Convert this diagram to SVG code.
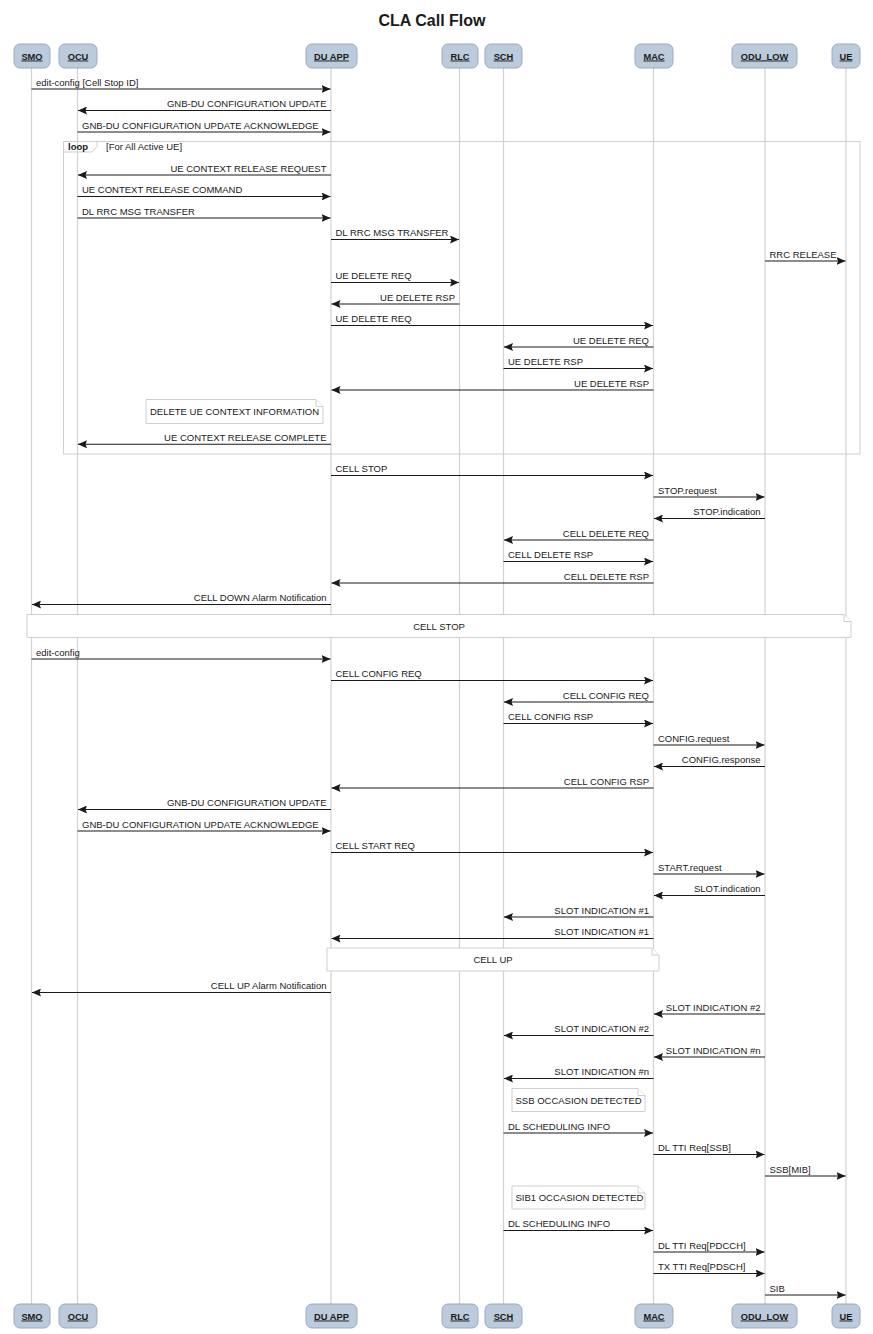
<svg xmlns="http://www.w3.org/2000/svg" width="873" height="1334" viewBox="0 0 873 1334">
<style>
text{font-family:"Liberation Sans",Arial,sans-serif;fill:#1a1a1a}
.title{font-size:16px;font-weight:bold}
.head rect{fill:#bccbdb;stroke:#97abc4;stroke-width:1}
.head text{font-size:9.3px;font-weight:bold;text-decoration:underline;text-anchor:middle}
.life{stroke:#d2d2d2;stroke-width:1.2}
.msg line{stroke:#1a1a1a;stroke-width:1.1;marker-end:url(#ah)}
.msg text{font-size:9.5px}
.r{text-anchor:end}
.frame{fill:none;stroke:#cfcfcf;stroke-width:1}
.note path{fill:#ffffff;stroke:#cfcfcf;stroke-width:1}
.note text{font-size:9.5px}
.lbl{font-size:9.5px}
.lblb{font-size:9.5px;font-weight:bold}
</style>
<defs>
<marker id="ah" viewBox="0 0 9 8" markerWidth="9" markerHeight="8" refX="9" refY="4" orient="auto" markerUnits="userSpaceOnUse">
<path d="M0,0 L9,4 L0,8 L1.5,4 z" fill="#1a1a1a"/>
</marker>
</defs>
<rect width="873" height="1334" fill="#ffffff"/>
<text class="title" x="432" y="26" text-anchor="middle">CLA Call Flow</text>

<g id="lifelines">
<line class="life" x1="31.5" y1="68" x2="31.5" y2="1304"/>
<line class="life" x1="77.5" y1="68" x2="77.5" y2="1304"/>
<line class="life" x1="331" y1="68" x2="331" y2="1304"/>
<line class="life" x1="459.5" y1="68" x2="459.5" y2="1304"/>
<line class="life" x1="503.5" y1="68" x2="503.5" y2="1304"/>
<line class="life" x1="653.5" y1="68" x2="653.5" y2="1304"/>
<line class="life" x1="765" y1="68" x2="765" y2="1304"/>
<line class="life" x1="846" y1="68" x2="846" y2="1304"/>
</g>

<g id="SMO" class="head">
<rect x="14" y="44" width="36" height="24" rx="6"/><text x="32" y="59.5">SMO</text>
<rect x="14" y="1304" width="36" height="24" rx="6"/><text x="32" y="1319.5">SMO</text>
</g>
<g id="OCU" class="head">
<rect x="59" y="44" width="38" height="24" rx="6"/><text x="78" y="59.5">OCU</text>
<rect x="59" y="1304" width="38" height="24" rx="6"/><text x="78" y="1319.5">OCU</text>
</g>
<g id="DU_APP" class="head">
<rect x="306" y="44" width="51" height="24" rx="6"/><text x="331.5" y="59.5">DU APP</text>
<rect x="306" y="1304" width="51" height="24" rx="6"/><text x="331.5" y="1319.5">DU APP</text>
</g>
<g id="RLC" class="head">
<rect x="442" y="44" width="36" height="24" rx="6"/><text x="460" y="59.5">RLC</text>
<rect x="442" y="1304" width="36" height="24" rx="6"/><text x="460" y="1319.5">RLC</text>
</g>
<g id="SCH" class="head">
<rect x="485" y="44" width="37" height="24" rx="6"/><text x="503.5" y="59.5">SCH</text>
<rect x="485" y="1304" width="37" height="24" rx="6"/><text x="503.5" y="1319.5">SCH</text>
</g>
<g id="MAC" class="head">
<rect x="635" y="44" width="38" height="24" rx="6"/><text x="654" y="59.5">MAC</text>
<rect x="635" y="1304" width="38" height="24" rx="6"/><text x="654" y="1319.5">MAC</text>
</g>
<g id="ODU_LOW" class="head">
<rect x="732" y="44" width="65" height="24" rx="6"/><text x="764.5" y="59.5">ODU_LOW</text>
<rect x="732" y="1304" width="65" height="24" rx="6"/><text x="764.5" y="1319.5">ODU_LOW</text>
</g>
<g id="UE" class="head">
<rect x="832" y="44" width="28" height="24" rx="6"/><text x="846" y="59.5">UE</text>
<rect x="832" y="1304" width="28" height="24" rx="6"/><text x="846" y="1319.5">UE</text>
</g>

<g id="loop">
<rect class="frame" x="63.5" y="141.5" width="796.5" height="312.5"/>
<path class="frame" d="M63.5,141.5 H97 V146.5 L92,152 H63.5"/>
<text class="lblb" x="68" y="150">loop</text>
<text class="lbl" x="106" y="150">[For All Active UE]</text>
</g>

<g id="note_delete_ue" class="note">
<path d="M146,399.5 H316 L323,406.5 V423.5 H146 Z"/><path d="M316,399.5 V406.5 H323"/>
<text x="150" y="414.5">DELETE UE CONTEXT INFORMATION</text>
</g>
<g id="note_cell_stop" class="note">
<path d="M27,614.5 H844 L851,621.5 V637.5 H27 Z"/><path d="M844,614.5 V621.5 H851"/>
<text x="439" y="629.5" text-anchor="middle">CELL STOP</text>
</g>
<g id="note_cell_up" class="note">
<path d="M327,948 H652 L659,955 V971 H327 Z"/><path d="M652,948 V955 H659"/>
<text x="493" y="963" text-anchor="middle">CELL UP</text>
</g>
<g id="note_ssb" class="note">
<path d="M512,1088.5 H638 L645,1095.5 V1111.5 H512 Z"/><path d="M638,1088.5 V1095.5 H645"/>
<text x="515.5" y="1103.5">SSB OCCASION DETECTED</text>
</g>
<g id="note_sib1" class="note">
<path d="M512,1186 H638 L645,1193 V1209 H512 Z"/><path d="M638,1186 V1193 H645"/>
<text x="515.5" y="1201">SIB1 OCCASION DETECTED</text>
</g>

<g id="connectors" class="msg">
<line x1="31.5" y1="89" x2="330.5" y2="89"/><text x="36" y="85.5">edit-config [Cell Stop ID]</text>
<line x1="331" y1="110.5" x2="78" y2="110.5"/><text class="r" x="326.5" y="107">GNB-DU CONFIGURATION UPDATE</text>
<line x1="77.5" y1="132" x2="330.5" y2="132"/><text x="82" y="128.5">GNB-DU CONFIGURATION UPDATE ACKNOWLEDGE</text>
<line x1="331" y1="175" x2="78" y2="175"/><text class="r" x="326.5" y="171.5">UE CONTEXT RELEASE REQUEST</text>
<line x1="77.5" y1="196.5" x2="330.5" y2="196.5"/><text x="82" y="193">UE CONTEXT RELEASE COMMAND</text>
<line x1="77.5" y1="218" x2="330.5" y2="218"/><text x="82" y="214.5">DL RRC MSG TRANSFER</text>
<line x1="331" y1="239.5" x2="459" y2="239.5"/><text x="335.5" y="236">DL RRC MSG TRANSFER</text>
<line x1="765" y1="261" x2="845.5" y2="261"/><text x="769.5" y="257.5">RRC RELEASE</text>
<line x1="331" y1="282.5" x2="459" y2="282.5"/><text x="335.5" y="279">UE DELETE REQ</text>
<line x1="459.5" y1="304" x2="331.5" y2="304"/><text class="r" x="455" y="300.5">UE DELETE RSP</text>
<line x1="331" y1="325.5" x2="653" y2="325.5"/><text x="335.5" y="322">UE DELETE REQ</text>
<line x1="653.5" y1="347" x2="504" y2="347"/><text class="r" x="649" y="343.5">UE DELETE REQ</text>
<line x1="503.5" y1="368.5" x2="653" y2="368.5"/><text x="508" y="365">UE DELETE RSP</text>
<line x1="653.5" y1="390" x2="331.5" y2="390"/><text class="r" x="649" y="386.5">UE DELETE RSP</text>
<line x1="331" y1="444.3" x2="78" y2="444.3"/><text class="r" x="326.5" y="440.8">UE CONTEXT RELEASE COMPLETE</text>
<line x1="331" y1="475.5" x2="653" y2="475.5"/><text x="335.5" y="472">CELL STOP</text>
<line x1="653.5" y1="497" x2="764.5" y2="497"/><text x="658" y="493.5">STOP.request</text>
<line x1="765" y1="518.5" x2="654" y2="518.5"/><text class="r" x="760.5" y="515">STOP.indication</text>
<line x1="653.5" y1="540" x2="504" y2="540"/><text class="r" x="649" y="536.5">CELL DELETE REQ</text>
<line x1="503.5" y1="561.5" x2="653" y2="561.5"/><text x="508" y="558">CELL DELETE RSP</text>
<line x1="653.5" y1="583" x2="331.5" y2="583"/><text class="r" x="649" y="579.5">CELL DELETE RSP</text>
<line x1="331" y1="604.5" x2="32" y2="604.5"/><text class="r" x="326.5" y="601">CELL DOWN Alarm Notification</text>
<line x1="31.5" y1="659" x2="330.5" y2="659"/><text x="36" y="655.5">edit-config</text>
<line x1="331" y1="680.5" x2="653" y2="680.5"/><text x="335.5" y="677">CELL CONFIG REQ</text>
<line x1="653.5" y1="702" x2="504" y2="702"/><text class="r" x="649" y="698.5">CELL CONFIG REQ</text>
<line x1="503.5" y1="723.5" x2="653" y2="723.5"/><text x="508" y="720">CELL CONFIG RSP</text>
<line x1="653.5" y1="745" x2="764.5" y2="745"/><text x="658" y="741.5">CONFIG.request</text>
<line x1="765" y1="766.5" x2="654" y2="766.5"/><text class="r" x="760.5" y="763">CONFIG.response</text>
<line x1="653.5" y1="788" x2="331.5" y2="788"/><text class="r" x="649" y="784.5">CELL CONFIG RSP</text>
<line x1="331" y1="809.5" x2="78" y2="809.5"/><text class="r" x="326.5" y="806">GNB-DU CONFIGURATION UPDATE</text>
<line x1="77.5" y1="831" x2="330.5" y2="831"/><text x="82" y="827.5">GNB-DU CONFIGURATION UPDATE ACKNOWLEDGE</text>
<line x1="331" y1="852.5" x2="653" y2="852.5"/><text x="335.5" y="849">CELL START REQ</text>
<line x1="653.5" y1="874" x2="764.5" y2="874"/><text x="658" y="870.5">START.request</text>
<line x1="765" y1="895.5" x2="654" y2="895.5"/><text class="r" x="760.5" y="892">SLOT.indication</text>
<line x1="653.5" y1="917" x2="504" y2="917"/><text class="r" x="649" y="913.5">SLOT INDICATION #1</text>
<line x1="653.5" y1="938.5" x2="331.5" y2="938.5"/><text class="r" x="649" y="935">SLOT INDICATION #1</text>
<line x1="331" y1="992.5" x2="32" y2="992.5"/><text class="r" x="326.5" y="989">CELL UP Alarm Notification</text>
<line x1="765" y1="1014" x2="654" y2="1014"/><text class="r" x="760.5" y="1010.5">SLOT INDICATION #2</text>
<line x1="653.5" y1="1035.5" x2="504" y2="1035.5"/><text class="r" x="649" y="1032">SLOT INDICATION #2</text>
<line x1="765" y1="1057" x2="654" y2="1057"/><text class="r" x="760.5" y="1053.5">SLOT INDICATION #n</text>
<line x1="653.5" y1="1078.5" x2="504" y2="1078.5"/><text class="r" x="649" y="1075">SLOT INDICATION #n</text>
<line x1="503.5" y1="1133" x2="653" y2="1133"/><text x="508" y="1129.5">DL SCHEDULING INFO</text>
<line x1="653.5" y1="1154.5" x2="764.5" y2="1154.5"/><text x="658" y="1151">DL TTI Req[SSB]</text>
<line x1="765" y1="1176" x2="845.5" y2="1176"/><text x="769.5" y="1172.5">SSB[MIB]</text>
<line x1="503.5" y1="1230.5" x2="653" y2="1230.5"/><text x="508" y="1227">DL SCHEDULING INFO</text>
<line x1="653.5" y1="1252" x2="764.5" y2="1252"/><text x="658" y="1248.5">DL TTI Req[PDCCH]</text>
<line x1="653.5" y1="1273.5" x2="764.5" y2="1273.5"/><text x="658" y="1270">TX TTI Req[PDSCH]</text>
<line x1="765" y1="1295" x2="845.5" y2="1295"/><text x="769.5" y="1291.5">SIB</text>
</g>
</svg>
